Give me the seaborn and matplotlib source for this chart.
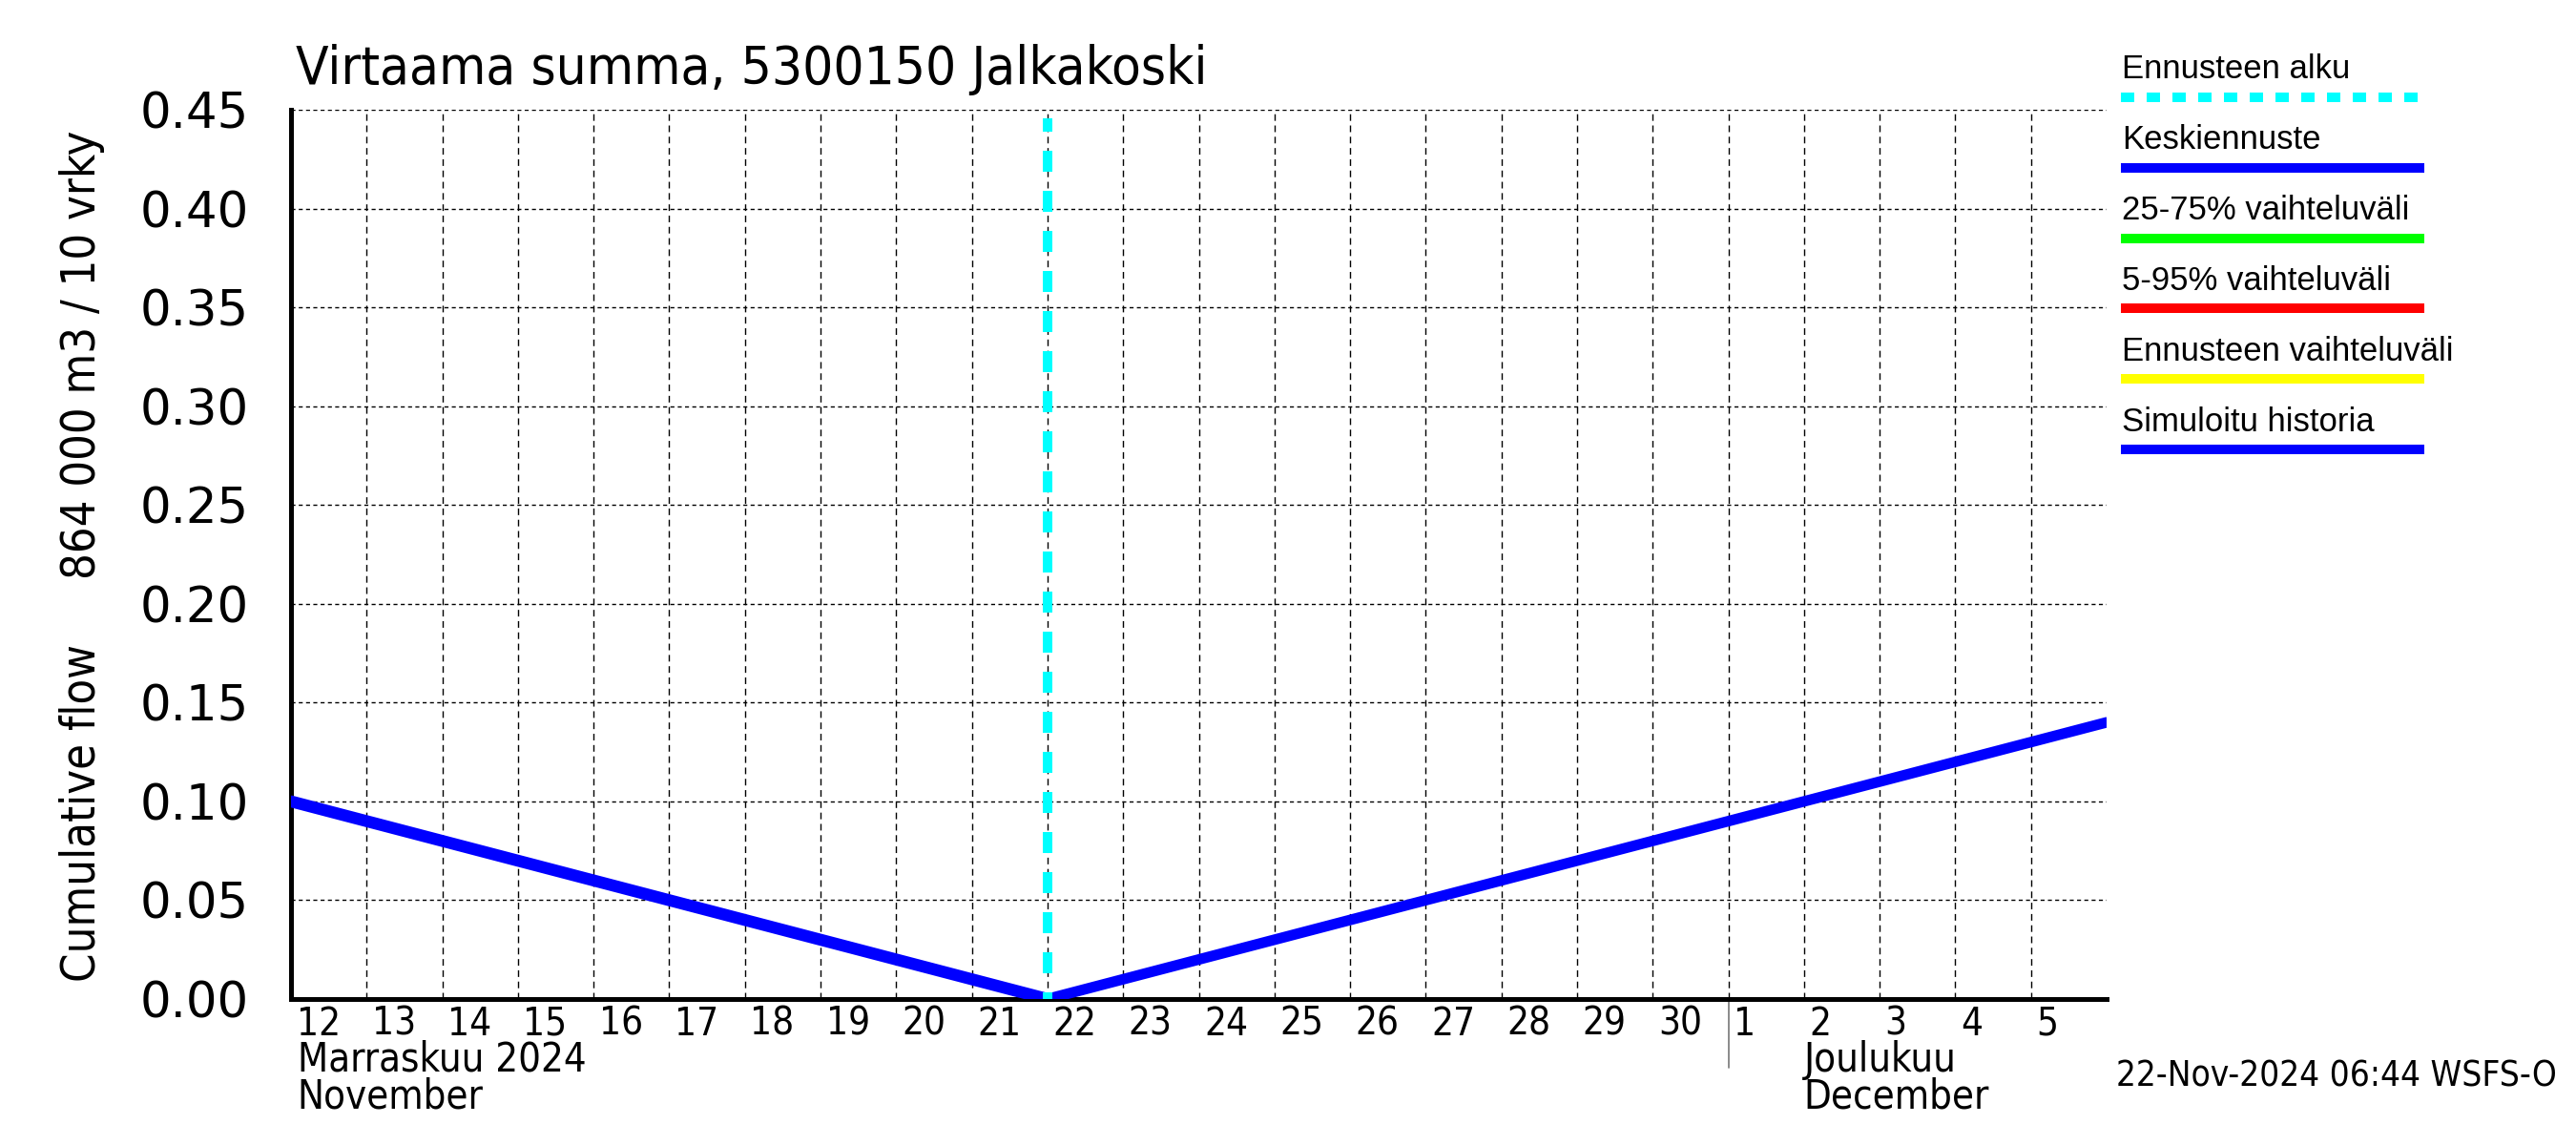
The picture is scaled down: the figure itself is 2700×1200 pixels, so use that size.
import pandas as pd
import matplotlib
matplotlib.use("Agg")
import matplotlib.pyplot as plt
import matplotlib.transforms as mtransforms
from matplotlib.lines import Line2D
import seaborn as sns

# values
history_dates = pd.date_range("2024-11-12", "2024-11-22", freq="D")
history_flow = [0.10, 0.09, 0.08, 0.07, 0.06, 0.05, 0.04, 0.03, 0.02, 0.01, 0.00]
forecast_dates = pd.date_range("2024-11-22", "2024-12-06", freq="D")
forecast_flow = [0.00, 0.01, 0.02, 0.03, 0.04, 0.05, 0.06, 0.07,
                 0.08, 0.09, 0.10, 0.11, 0.12, 0.13, 0.14]
forecast_start = pd.Timestamp("2024-11-22")

tick_dates = pd.date_range("2024-11-12", "2024-12-05", freq="D")
tick_labels = [str(d.day) for d in tick_dates]
long_tick_dates = pd.to_datetime(["2024-11-15", "2024-11-20", "2024-11-25", "2024-12-05"])
month_start = pd.Timestamp("2024-12-01")
y_ticks = [0.00, 0.05, 0.10, 0.15, 0.20, 0.25, 0.30, 0.35, 0.40, 0.45]
y_tick_labels = ["0.00", "0.05", "0.10", "0.15", "0.20", "0.25", "0.30", "0.35", "0.40", "0.45"]

legend_labels = ["Ennusteen alku", "Keskiennuste", "25-75% vaihteluväli",
                 "5-95% vaihteluväli", "Ennusteen vaihteluväli", "Simuloitu historia"]
legend_colors = ["#00ffff", "#0000ff", "#00ff00", "#ff0000", "#ffff00", "#0000ff"]

title = "Virtaama summa, 5300150 Jalkakoski"
footer = "22-Nov-2024 06:44 WSFS-O"

sns.set_style("white")
plt.rcParams["font.family"] = ["DejaVu Sans"]
plt.rcParams["font.stretch"] = "condensed"
plt.rcParams["text.color"] = "black"
plt.rcParams["xtick.color"] = "black"
plt.rcParams["ytick.color"] = "black"

W, H = 2700, 1200
fig = plt.figure(figsize=(27, 12), dpi=100)
ax = fig.add_axes([305 / W, 1 - 1047 / H, (2208 - 305) / W, (1047 - 115) / H])

# lines
sns.lineplot(x=history_dates, y=history_flow, ax=ax, color="#0000ff", linewidth=9, zorder=3)
sns.lineplot(x=forecast_dates, y=forecast_flow, ax=ax, color="#0000ff", linewidth=8, zorder=3)
ax.axvline(forecast_start, ymax=0.99, color="#00ffff", linewidth=7.2,
           linestyle=(1.5, (2.2, 2.0)), zorder=4)

ax.set_xlim(pd.Timestamp("2024-11-12"), pd.Timestamp("2024-12-06"))
ax.set_ylim(0, 0.45)

# grid
ax.set_xticks(tick_dates)
ax.set_xticklabels(tick_labels, ha="left", fontsize=29)
ax.set_xticks(long_tick_dates, minor=True)
ax.set_yticks(y_ticks)
ax.set_yticklabels(y_tick_labels, fontsize=37, fontstretch="normal")
ax.xaxis.grid(True, which="major", color="black", linestyle=(0, (5, 3.5)), linewidth=1)
ax.yaxis.grid(True, color="black", linestyle=(0, (3, 2.5)), linewidth=1)
ax.set_axisbelow(True)

# ticks
ax.tick_params(axis="x", which="major", direction="out", length=7, width=1, pad=-2)
ax.tick_params(axis="x", which="minor", direction="out", length=29, width=1)
ax.tick_params(axis="y", direction="in", length=32, width=2, pad=32)
shift = mtransforms.ScaledTranslation(4 / 72, 0, fig.dpi_scale_trans)
for lab in ax.get_xticklabels():
    lab.set_transform(lab.get_transform() + shift)

for side in ["top", "right"]:
    ax.spines[side].set_visible(False)
for side in ["left", "bottom"]:
    ax.spines[side].set_linewidth(3.6)
    ax.spines[side].set_color("black")

ax.set_xlabel("")
ax.set_ylabel("")

# month marks
blend = mtransforms.blended_transform_factory(ax.transData, ax.transAxes)
ax.plot([month_start, month_start], [0, -0.077], transform=blend, clip_on=False,
        color="#777777", linewidth=1.2)
ax.text(pd.Timestamp("2024-11-12 02:00"), -0.0815, "Marraskuu 2024", transform=blend,
        fontsize=30, va="baseline", ha="left")
ax.text(pd.Timestamp("2024-11-12 02:00"), -0.123, "November", transform=blend,
        fontsize=30, va="baseline", ha="left")
ax.text(pd.Timestamp("2024-12-02 00:00"), -0.0815, "Joulukuu", transform=blend,
        fontsize=30, va="baseline", ha="left")
ax.text(pd.Timestamp("2024-12-02 00:00"), -0.123, "December", transform=blend,
        fontsize=30, va="baseline", ha="left")

# title, axis label, footer
fig.text(310 / W, 1 - 88 / H, title, fontsize=40.5, va="baseline", ha="left")
fig.text(86 / W, 1 - 852 / H, "Cumulative flow", fontsize=35, rotation=90,
         ha="center", va="center")
fig.text(86 / W, 1 - 372 / H, "864 000 m3 / 10 vrky", fontsize=35, rotation=90,
         ha="center", va="center")
fig.text(2680 / W, 1 - 1128 / H, footer, fontsize=26.5, ha="right", va="center")

# legend
for i, (label, color) in enumerate(zip(legend_labels, legend_colors)):
    ty = 73 + i * 73.8
    ly = ty + 29
    fig.text(2224 / W, 1 - ty / H, label, fontsize=25, family=["Liberation Sans", "DejaVu Sans"],
             fontstretch="normal", va="center", ha="left")
    style = (0, (1.4, 1.3)) if i == 0 else "-"
    fig.add_artist(Line2D([2223 / W, 2541 / W], [1 - ly / H, 1 - ly / H],
                          transform=fig.transFigure, color=color, linewidth=7.2,
                          linestyle=style, solid_capstyle="butt", dash_capstyle="butt"))

fig.savefig("out.png", dpi=100)
